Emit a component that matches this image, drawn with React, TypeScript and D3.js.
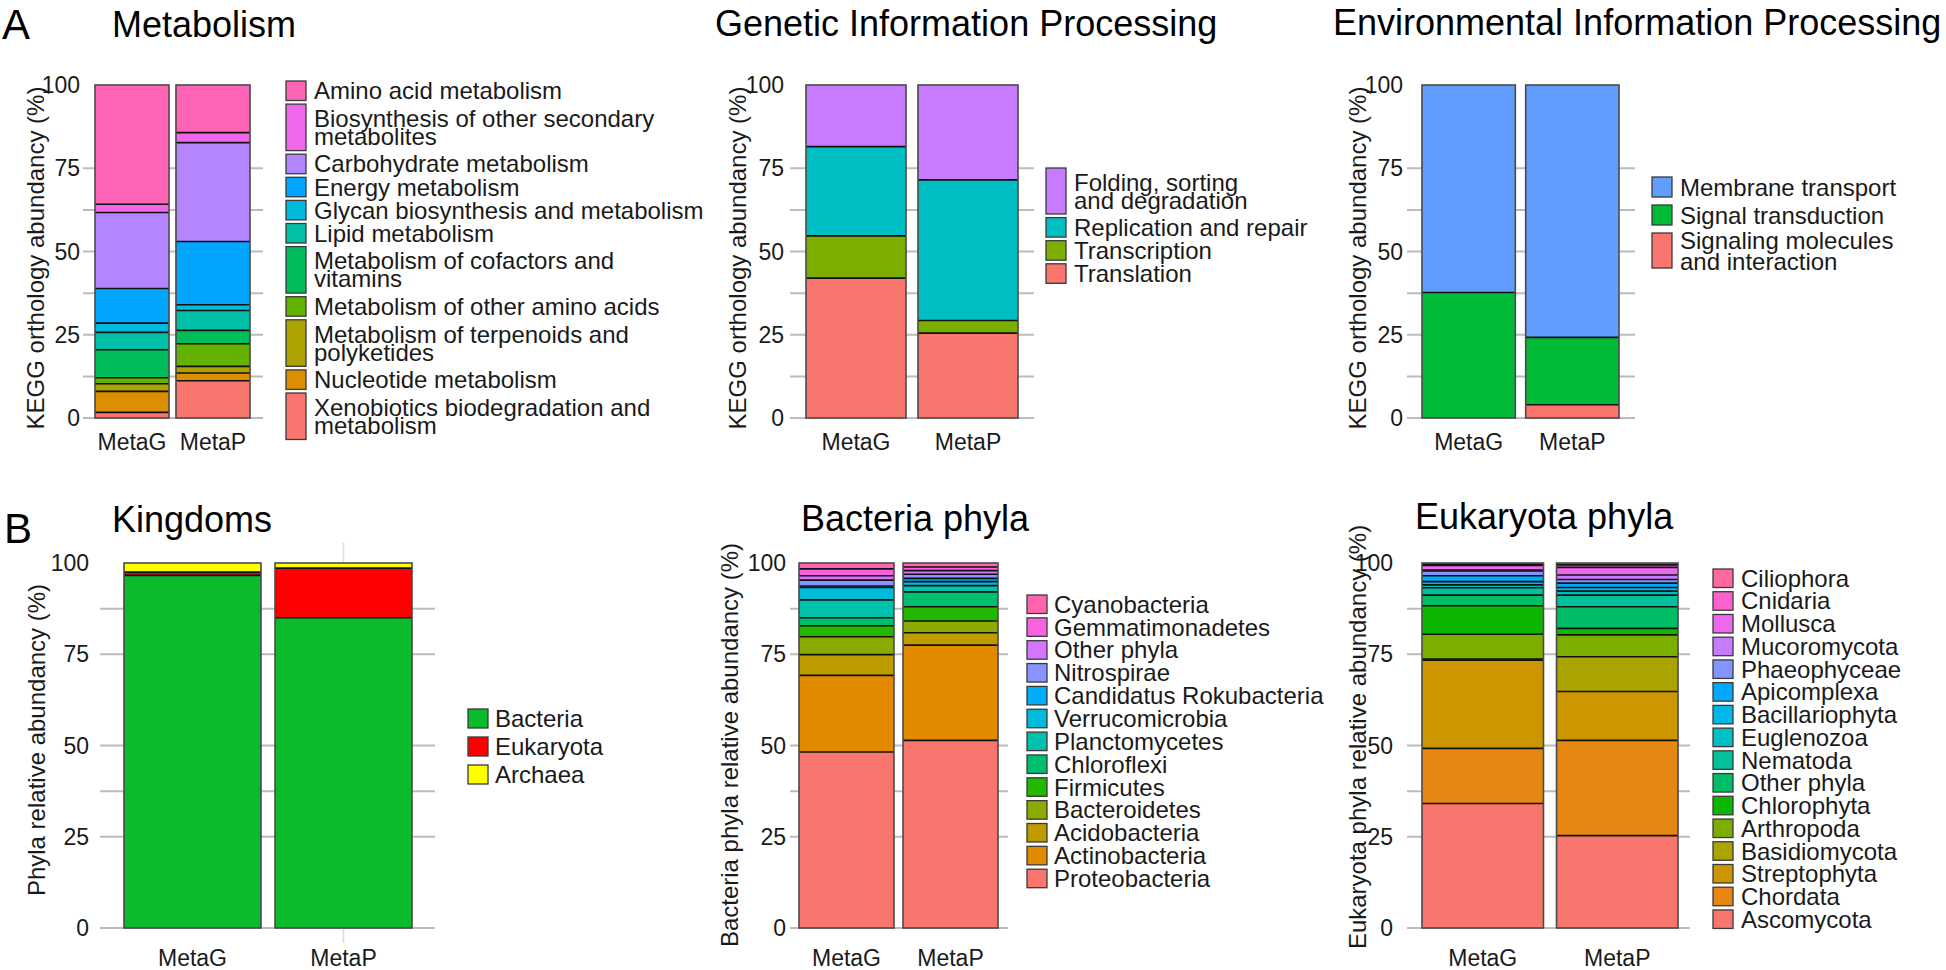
import React from 'react';
import * as d3 from 'd3';

const samples = ['MetaG', 'MetaP'];

// ---- Panel A: Metabolism (stack order bottom -> top) ----
const metabolismCategories = [
  'Xenobiotics biodegradation and\nmetabolism',
  'Nucleotide metabolism',
  'Metabolism of terpenoids and\npolyketides',
  'Metabolism of other amino acids',
  'Metabolism of cofactors and\nvitamins',
  'Lipid metabolism',
  'Glycan biosynthesis and metabolism',
  'Energy metabolism',
  'Carbohydrate metabolism',
  'Biosynthesis of other secondary\nmetabolites',
  'Amino acid metabolism',
];
const metabolismMetaG = [1.7, 6.3, 2.3, 1.8, 8.4, 5.2, 2.8, 10.4, 22.8, 2.5, 35.8];
const metabolismMetaP = [11.2, 2.3, 2.0, 6.8, 4.0, 6.0, 1.7, 19.0, 29.7, 3.0, 14.3];

// ---- Genetic Information Processing ----
const geneticCategories = ['Translation', 'Transcription', 'Replication and repair', 'Folding, sorting\nand degradation'];
const geneticMetaG = [42.0, 12.7, 26.8, 18.5];
const geneticMetaP = [25.5, 3.8, 42.2, 28.5];

// ---- Environmental Information Processing ----
const environmentalCategories = ['Signaling molecules\nand interaction', 'Signal transduction', 'Membrane transport'];
const environmentalMetaG = [0, 37.7, 62.3];
const environmentalMetaP = [4.0, 20.2, 75.8];

// ---- Panel B: Kingdoms ----
const kingdomCategories = ['Bacteria', 'Eukaryota', 'Archaea'];
const kingdomMetaG = [96.6, 0.9, 2.5];
const kingdomMetaP = [85.0, 13.6, 1.4];
const kingdomColors = ['#0ABB2B', '#FF0000', '#FFFF00'];

// ---- Bacteria phyla ----
const bacteriaCategories = [
  'Proteobacteria', 'Actinobacteria', 'Acidobacteria', 'Bacteroidetes', 'Firmicutes', 'Chloroflexi',
  'Planctomycetes', 'Verrucomicrobia', 'Candidatus Rokubacteria', 'Nitrospirae', 'Other phyla',
  'Gemmatimonadetes', 'Cyanobacteria',
];
const bacteriaMetaG = [48.2, 21.0, 5.7, 4.9, 3.0, 2.2, 4.9, 3.4, 0.4, 1.6, 1.2, 1.9, 1.6];
const bacteriaMetaP = [51.4, 26.1, 3.4, 3.2, 3.9, 4.1, 1.7, 1.1, 0.9, 1.1, 1.0, 1.0, 1.1];

// ---- Eukaryota phyla ----
const eukaryotaCategories = [
  'Ascomycota', 'Chordata', 'Streptophyta', 'Basidiomycota', 'Arthropoda', 'Chlorophyta', 'Other phyla',
  'Nematoda', 'Euglenozoa', 'Bacillariophyta', 'Apicomplexa', 'Phaeophyceae', 'Mucoromycota', 'Mollusca',
  'Cnidaria', 'Ciliophora',
];
const eukaryotaMetaG = [34.1, 15.1, 24.2, 0.3, 6.8, 7.8, 2.9, 2.0, 0.8, 0.9, 1.6, 1.3, 0.3, 1.2, 0.4, 0.3];
const eukaryotaMetaP = [25.3, 26.1, 13.4, 9.5, 6.0, 1.8, 5.9, 3.2, 1.1, 1.0, 1.2, 1.0, 1.2, 2.1, 0.7, 0.5];

const yTickValues = [0, 25, 50, 75, 100];
const topGridValues = [0, 12.5, 25, 37.5, 50, 62.5, 75];
const bottomGridValues = [0, 25, 37.5, 50, 75, 87.5];

const FONT = "'Liberation Sans', Arial, Helvetica, sans-serif";

// ggplot2-like hue palette (polar LUV -> sRGB)
function hclToHex(h: number, c: number, l: number): string {
  const Xn = 95.047, Yn = 100, Zn = 108.883;
  const rad = (h * Math.PI) / 180;
  const U = c * Math.cos(rad), V = c * Math.sin(rad);
  const Y = l > 8 ? Yn * Math.pow((l + 16) / 116, 3) : (Yn * l) / 903.3;
  const den = Xn + 15 * Yn + 3 * Zn;
  const un = (4 * Xn) / den, vn = (9 * Yn) / den;
  const u = U / (13 * l) + un, v = V / (13 * l) + vn;
  const X = (Y * 9 * u) / (4 * v);
  const Z = (Y * (12 - 3 * u - 20 * v)) / (4 * v);
  const x = X / 100, y = Y / 100, z = Z / 100;
  const lin = [
    3.2404542 * x - 1.5371385 * y - 0.4985314 * z,
    -0.969266 * x + 1.8760108 * y + 0.041556 * z,
    0.0556434 * x - 0.2040259 * y + 1.0572252 * z,
  ];
  const g = lin.map((t) => {
    const s = t <= 0.0031308 ? 12.92 * t : 1.055 * Math.pow(t, 1 / 2.4) - 0.055;
    return Math.round(Math.max(0, Math.min(1, s)) * 255);
  });
  return d3.rgb(g[0], g[1], g[2]).formatHex();
}
function huePalette(n: number): string[] {
  return d3.range(n).map((i) => hclToHex(15 + (360 * i) / n, 100, 65));
}

type LegendCfg = {
  x: number; textX: number; top: number; h1: number; h2: number; gap: number; lineH: number; reverse: boolean;
};
type PanelCfg = {
  title: string; titleX: number; titleY: number;
  categories: string[]; metaG: number[]; metaP: number[]; colors: string[];
  barLeft: number; barRight: number; padding: number;
  gridLeft: number; gridRight: number; grid: number[];
  yTop: number; yBottom: number; tickRight: number;
  yTitle: string; yTitleX: number; yTitleY: number;
  xLabelY: number; legend: LegendCfg; vGrid?: boolean;
};

function Panel({ cfg }: { cfg: PanelCfg }) {
  const x = d3.scaleBand<string>().domain(samples).range([cfg.barLeft, cfg.barRight]).paddingInner(cfg.padding).paddingOuter(0);
  const y = d3.scaleLinear().domain([0, 100]).range([cfg.yBottom, cfg.yTop]);
  const rows = samples.map((s, i) => {
    const vals = i === 0 ? cfg.metaG : cfg.metaP;
    const o: any = { sample: s };
    cfg.categories.forEach((c, k) => (o[c] = vals[k]));
    return o;
  });
  const series = d3.stack<any>().keys(cfg.categories)(rows);
  const bw = x.bandwidth();

  const lg = cfg.legend;
  const order = cfg.categories.map((c, i) => ({ c, color: cfg.colors[i] }));
  const items = lg.reverse ? [...order].reverse() : order;
  let cursor = lg.top;
  const legendItems = items.map((it) => {
    const lines = it.c.split('\n');
    const h = lines.length > 1 ? lg.h2 : lg.h1;
    const top = cursor;
    cursor += h + lg.gap;
    return { ...it, lines, h, top };
  });

  return (
    <g>
      <text x={cfg.titleX} y={cfg.titleY} fontSize={36} fontFamily={FONT} fill="#000">{cfg.title}</text>
      {cfg.grid.map((g) => (
        <line key={'g' + g} x1={cfg.gridLeft} x2={cfg.gridRight} y1={y(g)} y2={y(g)} stroke="#bcbcbc" strokeWidth={2} />
      ))}
      {cfg.vGrid && (
        <g>
          <line x1={(x('MetaP') as number) + bw / 2} x2={(x('MetaP') as number) + bw / 2} y1={cfg.yTop - 20} y2={cfg.yBottom + 15} stroke="#dcdcdc" strokeWidth={1.5} />
        </g>
      )}
      {yTickValues.map((t) => (
        <text key={'t' + t} x={cfg.tickRight} y={y(t) + 8} fontSize={23} fontFamily={FONT} textAnchor="end" fill="#1a1a1a">{t}</text>
      ))}
      <text transform={`translate(${cfg.yTitleX},${cfg.yTitleY}) rotate(-90)`} fontSize={24} fontFamily={FONT} textAnchor="middle" fill="#1a1a1a">{cfg.yTitle}</text>
      {series.map((s, si) => (
        <g key={'s' + si} fill={cfg.colors[si]}>
          {s.map((d: any, di: number) => {
            const h = y(d[0]) - y(d[1]);
            if (h <= 0) return null;
            return <rect key={di} x={x(d.data.sample)} y={y(d[1])} width={bw} height={h} />;
          })}
        </g>
      ))}
      {series.map((s, si) => (
        <g key={'l' + si}>
          {s.map((d: any, di: number) => {
            if (d[1] - d[0] <= 0 || d[1] >= 99.99) return null;
            return (
              <line key={di} x1={x(d.data.sample)} x2={(x(d.data.sample) as number) + bw} y1={y(d[1])} y2={y(d[1])} stroke="#111" strokeWidth={1.6} />
            );
          })}
        </g>
      ))}
      {samples.map((s) => (
        <rect key={'o' + s} x={x(s)} y={y(100)} width={bw} height={y(0) - y(100)} fill="none" stroke="#4a4a4a" strokeWidth={1.6} />
      ))}
      {samples.map((s) => (
        <text key={'x' + s} x={(x(s) as number) + bw / 2} y={cfg.xLabelY} fontSize={23} fontFamily={FONT} textAnchor="middle" fill="#1a1a1a">{s}</text>
      ))}
      {legendItems.map((it, i) => (
        <g key={'lg' + i}>
          <rect x={lg.x} y={it.top} width={20} height={it.h} fill={it.color} stroke="#3a3a3a" strokeWidth={1.3} />
          {it.lines.map((ln, k) => (
            <text key={k} x={lg.textX} y={it.top + it.h / 2 + (k - (it.lines.length - 1) / 2) * lg.lineH + 8.5} fontSize={24} fontFamily={FONT} fill="#1a1a1a">{ln}</text>
          ))}
        </g>
      ))}
    </g>
  );
}

const panels: PanelCfg[] = [
  {
    title: 'Metabolism', titleX: 112, titleY: 37,
    categories: metabolismCategories, metaG: metabolismMetaG, metaP: metabolismMetaP, colors: huePalette(metabolismCategories.length),
    barLeft: 95, barRight: 250, padding: 0.086, gridLeft: 83, gridRight: 263, grid: topGridValues,
    yTop: 85, yBottom: 418, tickRight: 80, yTitle: 'KEGG orthology abundancy (%)', yTitleX: 44, yTitleY: 258, xLabelY: 450,
    legend: { x: 286, textX: 314, top: 81, h1: 19.5, h2: 46.5, gap: 3.6, lineH: 18, reverse: true },
  },
  {
    title: 'Genetic Information Processing', titleX: 715, titleY: 36,
    categories: geneticCategories, metaG: geneticMetaG, metaP: geneticMetaP, colors: huePalette(geneticCategories.length),
    barLeft: 806, barRight: 1018, padding: 0.107, gridLeft: 790, gridRight: 1034, grid: topGridValues,
    yTop: 85, yBottom: 418, tickRight: 784, yTitle: 'KEGG orthology abundancy (%)', yTitleX: 746, yTitleY: 258, xLabelY: 450,
    legend: { x: 1046, textX: 1074, top: 168, h1: 19.5, h2: 46, gap: 3.6, lineH: 18, reverse: true },
  },
  {
    title: 'Environmental Information Processing', titleX: 1333, titleY: 35,
    categories: environmentalCategories, metaG: environmentalMetaG, metaP: environmentalMetaP, colors: huePalette(environmentalCategories.length),
    barLeft: 1422, barRight: 1619, padding: 0.1, gridLeft: 1407, gridRight: 1635, grid: topGridValues,
    yTop: 85, yBottom: 418, tickRight: 1403, yTitle: 'KEGG orthology abundancy (%)', yTitleX: 1366, yTitleY: 258, xLabelY: 450,
    legend: { x: 1652, textX: 1680, top: 177, h1: 20, h2: 35, gap: 8, lineH: 21, reverse: true },
  },
  {
    title: 'Kingdoms', titleX: 112, titleY: 532,
    categories: kingdomCategories, metaG: kingdomMetaG, metaP: kingdomMetaP, colors: kingdomColors,
    barLeft: 124, barRight: 412, padding: 0.093, gridLeft: 100, gridRight: 435, grid: bottomGridValues,
    yTop: 563, yBottom: 928, tickRight: 89, yTitle: 'Phyla relative abundancy (%)', yTitleX: 45, yTitleY: 740, xLabelY: 966,
    legend: { x: 468, textX: 495, top: 709, h1: 19, h2: 19, gap: 9, lineH: 18, reverse: false }, vGrid: true,
  },
  {
    title: 'Bacteria phyla', titleX: 801, titleY: 531,
    categories: bacteriaCategories, metaG: bacteriaMetaG, metaP: bacteriaMetaP, colors: huePalette(bacteriaCategories.length),
    barLeft: 799, barRight: 998, padding: 0.087, gridLeft: 790, gridRight: 1008, grid: bottomGridValues,
    yTop: 563, yBottom: 928, tickRight: 786, yTitle: 'Bacteria phyla relative abundancy (%)', yTitleX: 738, yTitleY: 745, xLabelY: 966,
    legend: { x: 1027, textX: 1054, top: 595, h1: 18.5, h2: 18.5, gap: 4.35, lineH: 18, reverse: true },
  },
  {
    title: 'Eukaryota phyla', titleX: 1415, titleY: 529,
    categories: eukaryotaCategories, metaG: eukaryotaMetaG, metaP: eukaryotaMetaP, colors: huePalette(eukaryotaCategories.length),
    barLeft: 1422, barRight: 1678, padding: 0.097, gridLeft: 1407, gridRight: 1690, grid: bottomGridValues,
    yTop: 563, yBottom: 928, tickRight: 1393, yTitle: 'Eukaryota phyla relative abundancy (%)', yTitleX: 1366, yTitleY: 737, xLabelY: 966,
    legend: { x: 1713, textX: 1741, top: 569, h1: 18.5, h2: 18.5, gap: 4.23, lineH: 18, reverse: true },
  },
];

export default function App() {
  return (
    <svg width={1946} height={970} style={{ position: 'absolute', left: 0, top: 0, background: '#fff' }}>
      <rect x={0} y={0} width={1946} height={970} fill="#fff" />
      <text x={2} y={39} fontSize={42} fontFamily={FONT} fill="#000">A</text>
      <text x={4} y={543} fontSize={42} fontFamily={FONT} fill="#000">B</text>
      {panels.map((p, i) => (
        <Panel key={i} cfg={p} />
      ))}
    </svg>
  );
}
